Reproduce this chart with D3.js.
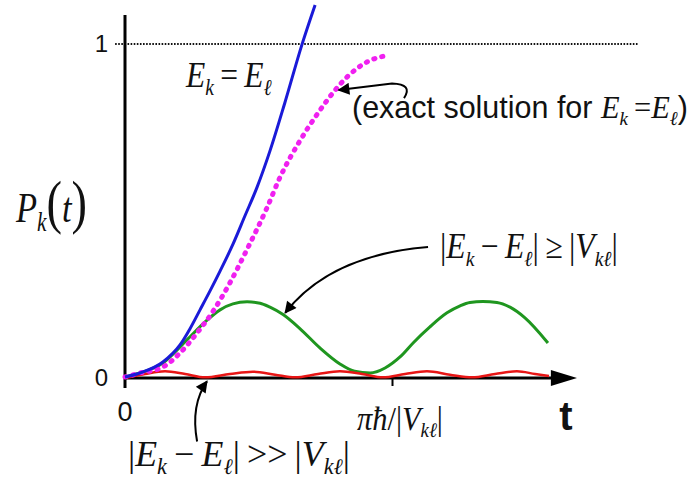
<!DOCTYPE html>
<html>
<head>
<meta charset="utf-8">
<script src="https://cdn.jsdelivr.net/npm/d3@7"></script>
<style>
  body { margin: 0; background: #fff; }
</style>
</head>
<body>
<svg id="chart" width="691" height="482"></svg>
<script>
// values; t in units of pi*hbar/|Vkl|, P is probability
var blueT = [0, 0.056, 0.142, 0.206, 0.243, 0.281, 0.318, 0.356, 0.404, 0.449, 0.494, 0.543, 0.599, 0.663, 0.712];
var blueP = [0.003, 0.015, 0.048, 0.099, 0.147, 0.204, 0.26, 0.32, 0.40, 0.485, 0.57, 0.68, 0.825, 0.999, 1.117];

var exactT = [0, 0.056, 0.142, 0.206, 0.27, 0.33, 0.393, 0.457, 0.532, 0.58, 0.655, 0.72, 0.78, 0.83, 0.906, 0.99];
var exactP = [0.003, 0.015, 0.033, 0.075, 0.135, 0.20, 0.285, 0.385, 0.51, 0.6, 0.71, 0.79, 0.855, 0.90, 0.946, 0.967];

var greenT = [0, 0.056, 0.142, 0.232, 0.30, 0.356, 0.404, 0.457, 0.506, 0.543, 0.592, 0.655, 0.73, 0.805, 0.86, 0.918,
              0.974, 1.03, 1.079, 1.142, 1.206, 1.255, 1.292, 1.34, 1.393, 1.442, 1.498, 1.584];
var greenP = [0.003, 0.015, 0.045, 0.114, 0.168, 0.204, 0.222, 0.228, 0.224, 0.212, 0.19, 0.148, 0.09, 0.042, 0.02, 0.015,
              0.03, 0.063, 0.105, 0.153, 0.195, 0.216, 0.226, 0.229, 0.226, 0.212, 0.18, 0.105];

var redT = [0, 0.075, 0.15, 0.225, 0.30, 0.393, 0.479, 0.562, 0.637, 0.723, 0.805, 0.888, 0.966,
            1.049, 1.131, 1.217, 1.30, 1.386, 1.468, 1.536, 1.588];
var redP = [0, 0.012, 0.02, 0.012, 0.002, 0.012, 0.019, 0.01, 0.002, 0.012, 0.02, 0.012, 0.002,
            0.012, 0.02, 0.01, 0.002, 0.012, 0.02, 0.012, 0.006];

var yTicks = [0, 1];
var xTicks = [1];

var svg = d3.select("#chart");
var x = d3.scaleLinear().domain([0, 1]).range([125, 392]);
var y = d3.scaleLinear().domain([0, 1]).range([378, 44]);

function zip(ts, ps) {
    return ts.map(function (t, i) { return [t, ps[i]]; });
}

// dotted level P = 1
svg.append("line")
    .attr("x1", x(-0.037)).attr("x2", x(1.921))
    .attr("y1", y(1)).attr("y2", y(1))
    .attr("stroke", "#111").attr("stroke-width", 2.2)
    .attr("stroke-dasharray", "1.6 1.5");

// axes
svg.append("line")
    .attr("x1", x(0)).attr("x2", x(0))
    .attr("y1", y(-0.03)).attr("y2", y(1.087))
    .attr("stroke", "#000").attr("stroke-width", 3);
svg.append("line")
    .attr("x1", x(0)).attr("x2", x(1.61))
    .attr("y1", y(0)).attr("y2", y(0))
    .attr("stroke", "#000").attr("stroke-width", 3);
svg.append("path")
    .attr("d", "M" + x(1.595) + "," + (y(0) - 8) + "L" + x(1.693) + "," + y(0) + "L" + x(1.595) + "," + (y(0) + 8) + "Z")
    .attr("fill", "#000");

var xAxis = svg.append("g")
    .attr("transform", "translate(0," + y(0) + ")")
    .call(d3.axisBottom(x).tickValues(xTicks).tickSize(8).tickFormat(""));
xAxis.select(".domain").remove();
xAxis.selectAll("line").attr("stroke-width", 2);

var yAxis = svg.append("g")
    .attr("transform", "translate(" + x(0) + ",0)")
    .call(d3.axisLeft(y).tickValues(yTicks).tickSize(0).tickPadding(17).tickFormat(d3.format("d")));
yAxis.select(".domain").remove();
yAxis.selectAll("text")
    .attr("font-family", "'Liberation Sans', Arial, sans-serif")
    .attr("font-size", 24).attr("fill", "#111");

// curves
var line = d3.line()
    .x(function (d) { return x(d[0]); })
    .y(function (d) { return y(d[1]); })
    .curve(d3.curveMonotoneX);

svg.append("path").datum(zip(greenT, greenP))
    .attr("d", line).attr("fill", "none")
    .attr("stroke", "#1f961f").attr("stroke-width", 3);
svg.append("path").datum(zip(redT, redP))
    .attr("d", line).attr("fill", "none")
    .attr("stroke", "#e81616").attr("stroke-width", 2.5);
svg.append("path").datum(zip(exactT, exactP))
    .attr("d", line).attr("fill", "none")
    .attr("stroke", "#f020f0").attr("stroke-width", 5)
    .attr("stroke-linecap", "round").attr("stroke-dasharray", "1.2 7");
svg.append("path").datum(zip(blueT, blueP))
    .attr("d", line).attr("fill", "none")
    .attr("stroke", "#1a1ad8").attr("stroke-width", 3);

// annotation arrows
svg.append("defs").append("marker")
    .attr("id", "head").attr("viewBox", "0 0 10 10")
    .attr("refX", 9).attr("refY", 5)
    .attr("markerWidth", 16).attr("markerHeight", 12)
    .attr("markerUnits", "userSpaceOnUse")
    .attr("orient", "auto")
    .append("path").attr("d", "M0,0L10,5L0,10Z").attr("fill", "#000");

function arrow(pts) {
    var p = pts.map(function (d) { return [x(d[0]), y(d[1])]; });
    var d = "M" + p[0] + "Q" + p[1] + " " + p[2];
    if (p.length > 3) d += "L" + p[3];
    svg.append("path").attr("d", d)
        .attr("fill", "none").attr("stroke", "#000").attr("stroke-width", 2)
        .attr("marker-end", "url(#head)");
}
arrow([[1.045, 0.838], [1.08, 0.88], [1.0, 0.882], [0.80, 0.862]]);
arrow([[1.135, 0.392], [0.768, 0.368], [0.6, 0.195]]);
arrow([[0.27, -0.19], [0.245, -0.08], [0.307, -0.01]]);

// labels
var serif = "'Liberation Serif', 'Times New Roman', serif";
var sans = "'Liberation Sans', Arial, sans-serif";

function mathText(parts, x0, base, size, width, stretch) {
    var g = svg.append("g");
    var t = g.append("text").attr("x", 0).attr("y", 0).attr("fill", "#111");
    var shifted = false;
    parts.forEach(function (p) {
        var s = t.append("tspan").text(p[0]);
        var sub = p[1] === "s";
        if (sub && !shifted) { s.attr("dy", size * 0.22); shifted = true; }
        else if (!sub && shifted) { s.attr("dy", -size * 0.22); shifted = false; }
        if (p[1] === "a") {
            s.attr("font-family", sans).attr("font-size", size);
        } else if (p[1] === "r") {
            s.attr("font-family", serif).attr("font-size", size);
        } else if (p[1] === "b") {
            s.attr("font-family", serif).attr("font-size", size * 1.35);
        } else {
            s.attr("font-family", serif).attr("font-style", "italic")
                .attr("font-size", sub ? size * 0.62 : size);
        }
    });
    var b = t.node().getBBox();
    var sx = width / b.width;
    g.attr("transform", "translate(" + (x0 - b.x * sx) + "," + base + ") scale(" + sx + "," + (sx * stretch) + ")");
}

mathText([["E", "i"], ["k", "s"], ["\u2009=\u2009", "r"], ["E", "i"], ["\u2113", "s"]], 185, 87, 34, 87, 1.15);
mathText([["(exact solution for ", "a"], ["E", "i"], ["k", "s"], ["\u2009=", "r"], ["E", "i"], ["\u2113", "s"], [")", "a"]],
    352, 118, 29, 336, 1.05);
mathText([["P", "i"], ["k", "s"], ["(", "b"], ["t", "i"], [")", "b"]], 15, 222, 38, 72, 1.25);
mathText([["|", "r"], ["E", "i"], ["k", "s"], ["\u2009\u2212\u2009", "r"], ["E", "i"], ["\u2113", "s"], ["|", "r"],
    ["\u2009\u2265\u2009", "r"], ["|", "r"], ["V", "i"], ["k\u2113", "s"], ["|", "r"]], 440, 258, 30, 178, 1.1);
mathText([["|", "r"], ["E", "i"], ["k", "s"], ["\u2009\u2212\u2009", "r"], ["E", "i"], ["\u2113", "s"], ["|", "r"],
    ["\u2009>>\u2009", "r"], ["|", "r"], ["V", "i"], ["k\u2113", "s"], ["|", "r"]], 128, 466, 34, 222, 1.0);
mathText([["\u03c0\u0127", "i"], ["/", "r"], ["|", "r"], ["V", "i"], ["k\u2113", "s"], ["|", "r"]], 357, 430, 30, 86, 1.1);

svg.append("text")
    .attr("x", x(0)).attr("y", 421)
    .attr("text-anchor", "middle")
    .attr("font-family", sans).attr("font-size", 27).attr("fill", "#111")
    .text("0");
svg.append("text")
    .attr("x", 566).attr("y", 430)
    .attr("text-anchor", "middle")
    .attr("font-family", sans).attr("font-weight", "bold").attr("font-size", 40).attr("fill", "#111")
    .text("t");
</script>
</body>
</html>
